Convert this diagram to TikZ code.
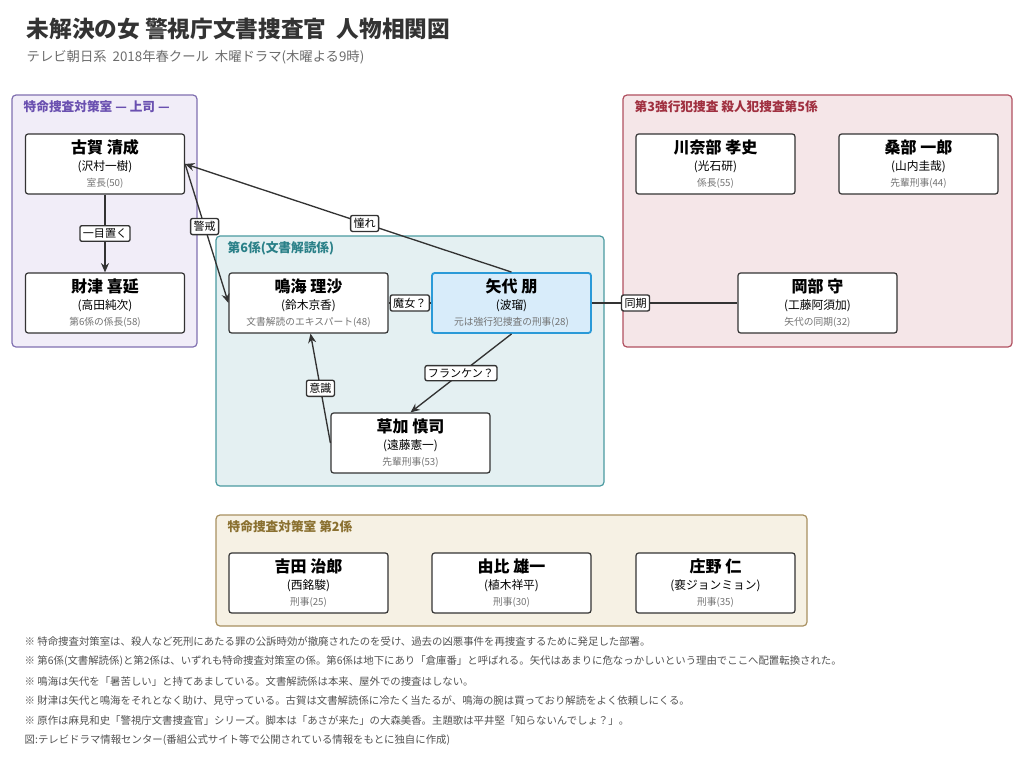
\documentclass[tikz,border=0pt]{standalone}
\usepackage{fontspec}
\setmainfont{Noto Sans CJK JP}
\usetikzlibrary{arrows.meta}
\definecolor{pB}{HTML}{8070B0}\definecolor{pF}{HTML}{F1EDF8}\definecolor{pT}{HTML}{6A50B0}
\definecolor{tB}{HTML}{4A9AA0}\definecolor{tF}{HTML}{E4F0F2}\definecolor{tT}{HTML}{2A8088}
\definecolor{rB}{HTML}{B05060}\definecolor{rF}{HTML}{F5E6E8}\definecolor{rT}{HTML}{A03040}
\definecolor{yB}{HTML}{A89060}\definecolor{yF}{HTML}{F6F1E4}\definecolor{yT}{HTML}{8A7030}
\definecolor{bB}{HTML}{2A9AD8}\definecolor{bF}{HTML}{D8ECFA}
\definecolor{ink}{HTML}{333333}
\newcommand{\pbox}[6]{\node[person,#6] (#1) at (#2) {{\fontsize{12}{13.5}\selectfont\bfseries #3}\\[1pt]{\fontsize{8.8}{10}\selectfont #4}\\{\fontsize{7.3}{8}\selectfont\color{gray!90!black} #5}};}
\begin{document}
\begin{tikzpicture}[x=0.75pt,y=-0.75pt,
  person/.style={draw=ink,fill=white,line width=0.9pt,rounded corners=2pt,minimum width=119.25pt,minimum height=45pt,align=center,inner sep=1pt},
  grp/.style={line width=0.9pt,rounded corners=3pt},
  glab/.style={anchor=west,font=\fontsize{9.5}{10}\selectfont\bfseries},
  elab/.style={draw=ink,fill=white,rounded corners=1.5pt,font=\fontsize{8.3}{9}\selectfont,inner sep=2.2pt},
  arr/.style={draw=ink,line width=1pt,-{Stealth[length=7pt,width=6pt]}}]
\useasboundingbox (0,0) rectangle (1024,767);
\node[anchor=west,font=\fontsize{17}{19}\selectfont\bfseries,text=ink] (title) at (22,29) {未解決の女 警視庁文書捜査官\ \ 人物相関図};
\node[anchor=west,font=\fontsize{10}{11}\selectfont,text=gray!85!black] (sub) at (22,57) {テレビ朝日系\ \ 2018年春クール\ \ 木曜ドラマ(木曜よる9時)};
% groups
\draw[grp,draw=pB,fill=pF] (12,95) rectangle (197,347);
\node[glab,text=pT] (g1) at (19,107) {特命捜査対策室 — 上司 —};
\draw[grp,draw=tB,fill=tF] (216,236) rectangle (604,486);
\node[glab,text=tT] (g2) at (223,248) {第6係(文書解読係)};
\draw[grp,draw=rB,fill=rF] (623,95) rectangle (1012,347);
\node[glab,text=rT] (g3) at (630,107) {第3強行犯捜査 殺人犯捜査第5係};
\draw[grp,draw=yB,fill=yF] (216,515) rectangle (807,626);
\node[glab,text=yT] (g4) at (223,527) {特命捜査対策室 第2係};
% persons
\pbox{koga}{105,164}{古賀 清成}{(沢村一樹)}{室長(50)}{}
\pbox{zaitsu}{105,303}{財津 喜延}{(高田純次)}{第6係の係長(58)}{}
\pbox{narumi}{308.5,303}{鳴海 理沙}{(鈴木京香)}{文書解読のエキスパート(48)}{}
\pbox{yashiro}{511.5,303}{矢代 朋}{(波瑠)}{元は強行犯捜査の刑事(28)}{draw=bB,fill=bF,line width=1.4pt}
\pbox{kusaka}{410.5,443}{草加 慎司}{(遠藤憲一)}{先輩刑事(53)}{}
\pbox{kawanabe}{715.5,164}{川奈部 孝史}{(光石研)}{係長(55)}{}
\pbox{kuwabe}{918.5,164}{桑部 一郎}{(山内圭哉)}{先輩刑事(44)}{}
\pbox{okabe}{817.5,303}{岡部 守}{(工藤阿須加)}{矢代の同期(32)}{}
\pbox{yoshida}{308.5,583}{吉田 治郎}{(西銘駿)}{刑事(25)}{}
\pbox{yui}{511.5,583}{由比 雄一}{(植木祥平)}{刑事(30)}{}
\pbox{shono}{715.5,583}{庄野 仁}{(裵ジョンミョン)}{刑事(35)}{}
% edges
\draw[arr] (koga) -- node[elab]{一目置く} (zaitsu);
\draw[arr] (yashiro.north) -- node[elab,pos=0.45]{憧れ} (koga.east);
\draw[arr] (koga.east) -- node[elab,pos=0.45]{警戒} (narumi.west);
\draw[draw=ink,line width=1pt] (yashiro.west) -- node[elab]{魔女？} (narumi.east);
\draw[draw=ink,line width=1pt] (yashiro.east) -- node[elab,pos=0.3]{同期} (okabe.west);
\draw[arr] (yashiro.south) -- node[elab]{フランケン？} (kusaka.north);
\coordinate (kl) at (kusaka.west);
\draw[arr] (kl) -- node[elab]{意識} ([xshift=1.5pt]narumi.south);
% notes
\foreach \t [count=\i] in {%
※ 特命捜査対策室は、殺人など死刑にあたる罪の公訴時効が撤廃されたのを受け、過去の凶悪事件を再捜査するために発足した部署。,
※ 第6係(文書解読係)と第2係は、いずれも特命捜査対策室の係。第6係は地下にあり「倉庫番」と呼ばれる。矢代はあまりに危なっかしいという理由でここへ配置転換された。,
※ 鳴海は矢代を「暑苦しい」と持てあましている。文書解読係は本来、屋外での捜査はしない。,
※ 財津は矢代と鳴海をそれとなく助け、見守っている。古賀は文書解読係に冷たく当たるが、鳴海の腕は買っており解読をよく依頼しにくる。,
※ 原作は麻見和史「警視庁文書捜査官」シリーズ。脚本は「あさが来た」の大森美香。主題歌は平井堅「知らないんでしょ？」。,
図:テレビドラマ情報センター(番組公式サイト等で公開されている情報をもとに独自に作成)}
  \node[anchor=west,font=\fontsize{7.8}{8.5}\selectfont,text=ink!85] (n\i) at (20,{642+(\i-1)*19.6}) {\t};
\end{tikzpicture}
\end{document}
